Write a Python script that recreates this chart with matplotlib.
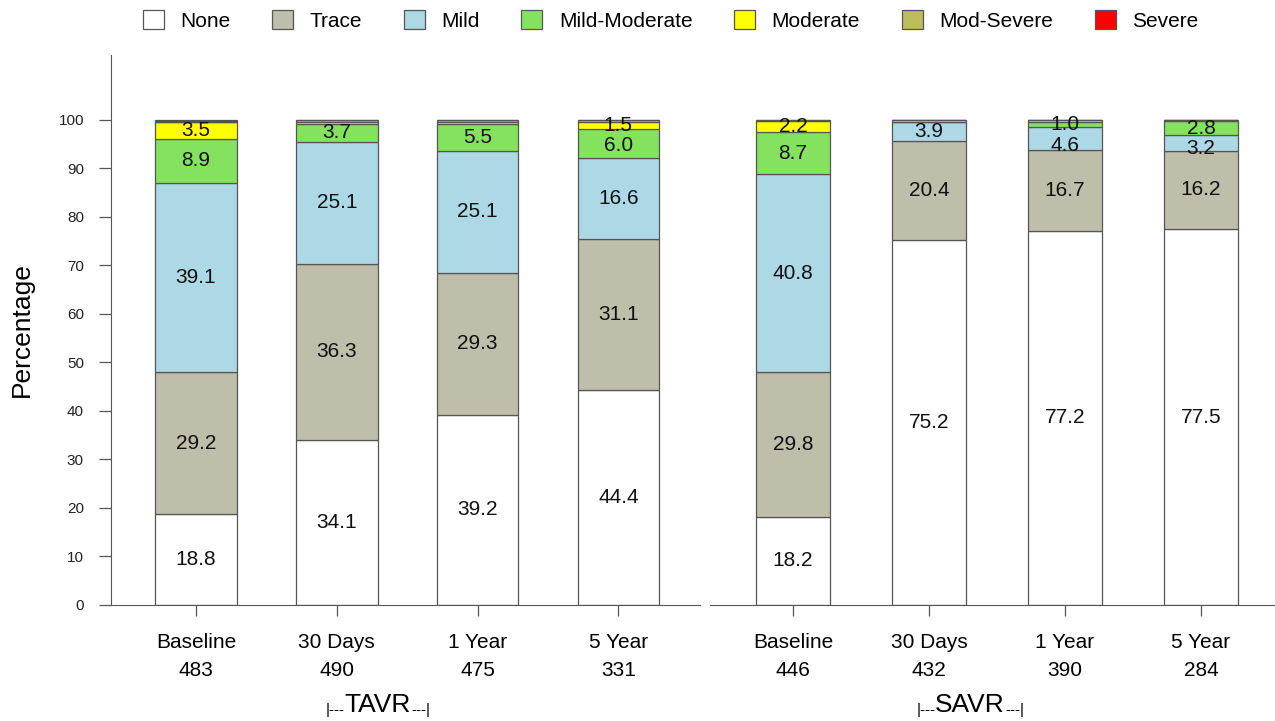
import matplotlib
matplotlib.use("Agg")
import matplotlib.pyplot as plt
from matplotlib.patches import Patch
import numpy as np

plt.rcParams["font.family"] = ["Liberation Sans", "DejaVu Sans"]

# categories (stack order, bottom to top)
grades = ["None", "Trace", "Mild", "Mild-Moderate", "Moderate", "Mod-Severe", "Severe"]
colors = ["#FFFFFF", "#BEBEAA", "#ADD8E6", "#84E25E", "#FFFF00", "#BDBD5C", "#FF0000"]

timepoints = ["Baseline", "30 Days", "1 Year", "5 Year"]
tavr_n = [483, 490, 475, 331]
savr_n = [446, 432, 390, 284]

# percentages per grade, one value per timepoint
tavr = {
    "None":          [18.8, 34.1, 39.2, 44.4],
    "Trace":         [29.2, 36.3, 29.3, 31.1],
    "Mild":          [39.1, 25.1, 25.1, 16.6],
    "Mild-Moderate": [8.9, 3.7, 5.5, 6.0],
    "Moderate":      [3.5, 0.4, 0.4, 1.5],
    "Mod-Severe":    [0.0, 0.4, 0.5, 0.4],
    "Severe":        [0.5, 0.0, 0.0, 0.0],
}
savr = {
    "None":          [18.2, 75.2, 77.2, 77.5],
    "Trace":         [29.8, 20.4, 16.7, 16.2],
    "Mild":          [40.8, 3.9, 4.6, 3.2],
    "Mild-Moderate": [8.7, 0.0, 1.0, 2.8],
    "Moderate":      [2.2, 0.5, 0.5, 0.3],
    "Mod-Severe":    [0.3, 0.0, 0.0, 0.0],
    "Severe":        [0.0, 0.0, 0.0, 0.0],
}

W, H = 1275, 721
fig = plt.figure(figsize=(W / 100, H / 100), dpi=100)
ax1 = fig.add_axes([111 / W, 1 - 605 / H, (700 - 111) / W, (605 - 55) / H])
ax2 = fig.add_axes([710 / W, 1 - 605 / H, (1275 - 710) / W, (605 - 55) / H])

edge = "#555555"


def draw_panel(ax, data, ns, width, xlim):
    x = np.arange(len(timepoints))
    bottom = np.zeros(len(timepoints))
    labels = [[] for _ in x]
    for g, c in zip(grades, colors):
        vals = np.array(data[g])
        ax.bar(x, vals, width, bottom=bottom, color=c, edgecolor=edge,
               linewidth=0.9)
        for i, (b, v) in enumerate(zip(bottom, vals)):
            if v >= 1.0:
                labels[i].append((b + v / 2, v))
        bottom += vals
    # value labels, pushed apart where thin segments sit next to each other
    for i, lab in enumerate(labels):
        prev = None
        for ypos, v in reversed(lab):
            if prev is not None and prev - ypos < 4.2:
                ypos = prev - 4.2
            ax.text(x[i], ypos, f"{v:.1f}", ha="center", va="center",
                    fontsize=15, color="#111111")
            prev = ypos
    ax.set_xlim(*xlim)
    ax.set_ylim(0, 113.4)
    ax.set_xticks(x)
    ax.set_xticklabels([f"{t}\n{n}" for t, n in zip(timepoints, ns)],
                       fontsize=15, linespacing=1.6)
    ax.tick_params(axis="x", length=8, width=0.9, color=edge, pad=12)
    for s in ["top", "right"]:
        ax.spines[s].set_visible(False)
    ax.spines["bottom"].set_color(edge)
    ax.spines["left"].set_color(edge)


draw_panel(ax1, tavr, tavr_n, 0.58, (-0.604, 3.58))
draw_panel(ax2, savr, savr_n, 0.55, (-0.61, 3.544))

ax1.set_yticks(np.arange(0, 101, 10))
ax1.tick_params(axis="y", length=8.5, width=0.9, color=edge, pad=11,
                labelsize=11, labelcolor="#222222")
ax1.set_ylabel("Percentage", fontsize=19, labelpad=18)
ax2.spines["left"].set_visible(False)
ax2.set_yticks([])

# group labels
for xc, name in [(378 / W, "TAVR"), (970 / W, "SAVR")]:
    t = fig.text(xc, 1 - 705 / H, name, ha="center", va="center", fontsize=19)
    fig.canvas.draw()
    ax1.annotate("|---", xy=(0, 0.02), xycoords=t, ha="right", va="bottom",
                 fontsize=11, annotation_clip=False)
    ax1.annotate("---|", xy=(1, 0.02), xycoords=t, ha="left", va="bottom",
                 fontsize=11, annotation_clip=False)

handles = [Patch(facecolor=c, edgecolor=edge, linewidth=0.9) for c in colors]
fig.legend(handles, grades, loc="upper center", bbox_to_anchor=(0.526, 1.012),
           ncol=7, frameon=False, fontsize=15, handlelength=1.0,
           handleheight=1.0, columnspacing=2.0, handletextpad=0.8)

fig.savefig("out.png", dpi=100)
